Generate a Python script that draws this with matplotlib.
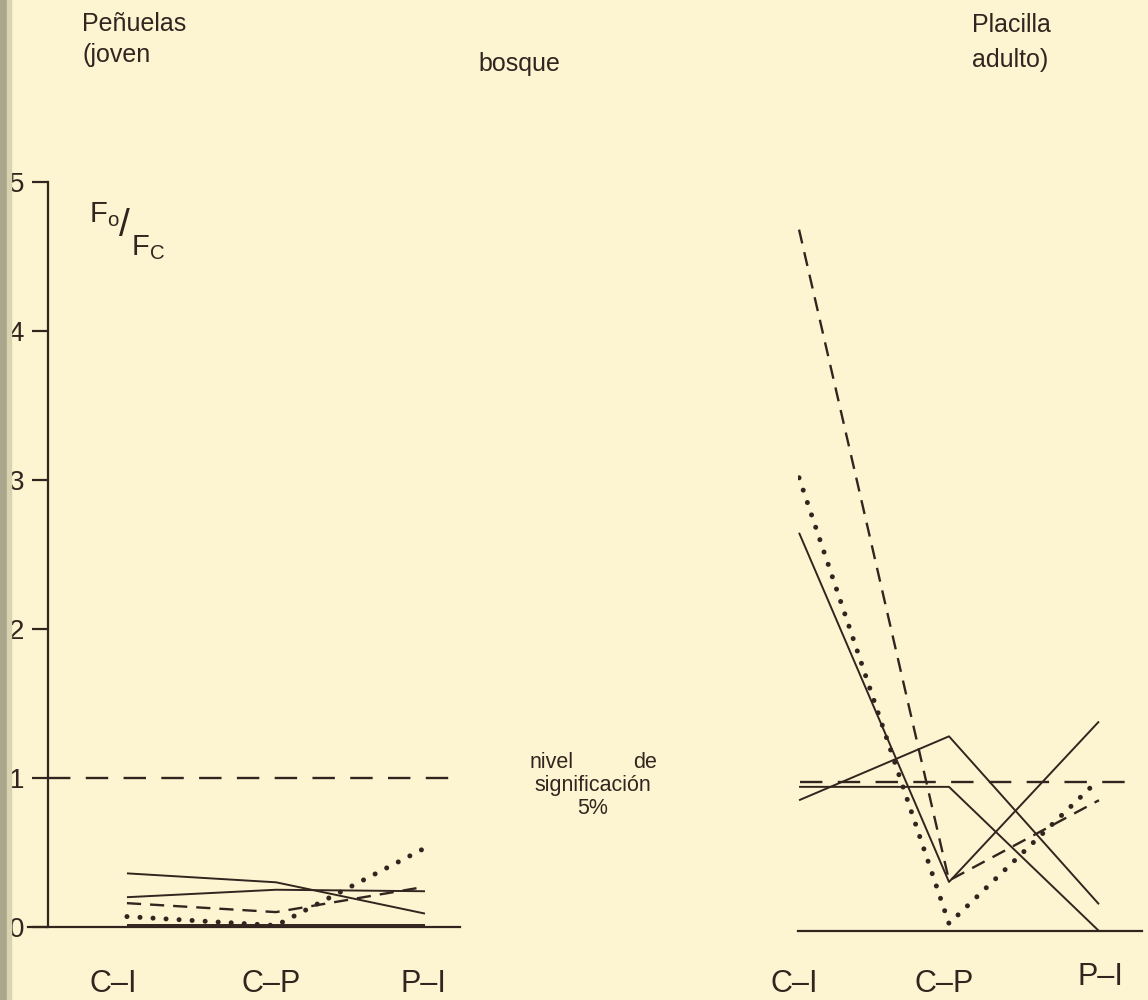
import matplotlib
matplotlib.use("Agg")
import matplotlib.pyplot as plt
from matplotlib.patches import Rectangle

# ---------------- data ----------------
categories = ["C–I", "C–P", "P–I"]
y_ticks = [0, 1, 2, 3, 4, 5]
y_tick_labels = ["0", "1", "2", "3", "4", "5"]
significance = 1.0

# Peñuelas (joven) panel
pen_solid_a = [0.36, 0.30, 0.09]
pen_solid_b = [0.20, 0.25, 0.24]
pen_dashed = [0.16, 0.10, 0.27]
pen_dotted = [0.07, 0.01, 0.53]
pen_solid_c = [0.015, 0.015, 0.015]

# Placilla (adulto) panel
pla_dashed = [4.72, 0.34, 0.88]
pla_dotted = [3.05, 0.05, 1.02]
pla_solid_a = [2.68, 0.33, 1.41]
pla_solid_b = [0.88, 1.31, 0.18]
pla_solid_c = [0.97, 0.97, 0.0]

# ---------------- style ----------------
BG = "#fdf5d1"
INK = "#33241f"
FONT = ["Liberation Sans", "DejaVu Sans"]
plt.rcParams["font.family"] = FONT

W, H = 1148, 1000
fig = plt.figure(figsize=(W / 100, H / 100), dpi=100, facecolor=BG)

def px(x, y):
    return x / W, 1 - y / H

xs = list(range(len(categories)))

solid_kw = dict(color=INK, lw=1.4, solid_capstyle="butt")
dash_kw = dict(color=INK, lw=1.7, linestyle=(0, (6.0, 3.8)))
dot_kw = dict(color=INK, lw=3.6, linestyle=(0, (0.01, 2.6)), dash_capstyle="round")
ref_kw = dict(color=INK, lw=1.7, linestyle=(0, (9.5, 6.5)))

# ---------------- left panel ----------------
axL = fig.add_axes([28 / W, 0.073, (460 - 28) / W, 0.745])
axL.set_facecolor("none")
axL.set_xlim(-0.664, 2.235)
axL.set_ylim(0, 5)
for s in ["top", "right"]:
    axL.spines[s].set_visible(False)
axL.spines["left"].set_position(("data", -0.53))
axL.spines["left"].set_bounds(0, 5)
for s in ["left", "bottom"]:
    axL.spines[s].set_color(INK)
    axL.spines[s].set_linewidth(1.6)
axL.set_yticks(y_ticks)
axL.set_yticklabels(y_tick_labels)
axL.tick_params(axis="y", direction="out", length=11.5, width=1.6, color=INK,
                pad=5.5, labelsize=20, labelcolor=INK)
axL.set_xticks([])

axL.hlines(significance, -0.53, 2.225, **ref_kw)
axL.plot(xs, pen_solid_a, **solid_kw)
axL.plot(xs, pen_solid_b, **solid_kw)
axL.plot(xs, pen_solid_c, **solid_kw)
axL.plot(xs, pen_dashed, **dash_kw)
axL.plot(xs, pen_dotted, **dot_kw)

label_off_L = [-0.09, -0.03, -0.01]
for i, c in enumerate(categories):
    axL.text(xs[i] + label_off_L[i], -0.38, c, ha="center", va="center",
             fontsize=22, color=INK)

# ---------------- right panel ----------------
axR = fig.add_axes([798 / W, 0.069, (1142 - 798) / W, 0.743])
axR.set_facecolor("none")
axR.set_xlim(-0.007, 2.287)
axR.set_ylim(0, 5)
for s in ["top", "right", "left"]:
    axR.spines[s].set_visible(False)
axR.spines["bottom"].set_color(INK)
axR.spines["bottom"].set_linewidth(1.6)
axR.set_xticks([])
axR.set_yticks([])

axR.hlines(significance, 0.007, 2.22, **ref_kw)
axR.plot(xs, pla_solid_a, **solid_kw)
axR.plot(xs, pla_solid_b, **solid_kw)
axR.plot(xs, pla_solid_c, **solid_kw)
axR.plot(xs, pla_dashed, **dash_kw)
axR.plot(xs, pla_dotted, **dot_kw)

label_off_R = [-0.03, -0.03, 0.01]
label_dy_R = [0.0, 0.0, 0.05]
for i, c in enumerate(categories):
    axR.text(xs[i] + label_off_R[i], -0.36 + label_dy_R[i], c, ha="center",
             va="center", fontsize=22, color=INK)

# ---------------- texts ----------------
def t(x, y, s, size=18, **kw):
    fig.text(*px(x, y), s, fontsize=size, color=INK, **kw)

t(82, 24, "Peñuelas", va="center", ha="left")
t(82, 55, "(joven", va="center", ha="left")
t(478, 64, "bosque", va="center", ha="left")
t(972, 25, "Placilla", va="center", ha="left")
t(972, 60, "adulto)", va="center", ha="left")

# F0/FC label
t(89, 215, r"$\mathregular{F_o}$", size=21, va="center", ha="left")
t(119, 226, "/", size=28, va="center", ha="left")
t(131, 248, r"$\mathregular{F_C}$", size=21, va="center", ha="left")

# significance note
t(530, 762, "nivel", size=15.5, va="center", ha="left")
t(657, 762, "de", size=15.5, va="center", ha="right")
t(593, 786, "significación", size=15.5, va="center", ha="center")
t(593, 809, "5%", size=15.5, va="center", ha="center")

# scanned-page binding strip at the left edge
fig.patches.append(Rectangle((0, 0), 7 / W, 1, transform=fig.transFigure,
                             color="#aaa68c", zorder=10))
fig.patches.append(Rectangle((7 / W, 0), 4 / W, 1, transform=fig.transFigure,
                             color="#d9d3b0", zorder=10))

fig.savefig("out.png", dpi=100, facecolor=BG)
